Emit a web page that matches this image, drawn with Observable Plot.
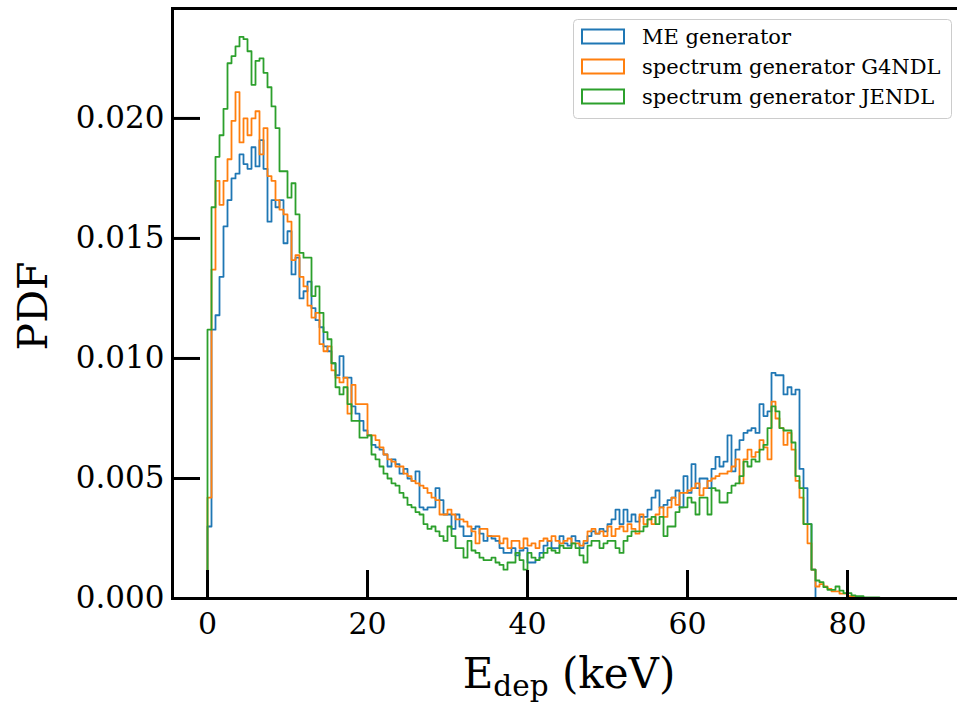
<!DOCTYPE html>
<html><head><meta charset="utf-8">
<script src="https://cdn.jsdelivr.net/npm/d3@7"></script>
<script src="https://cdn.jsdelivr.net/npm/@observablehq/plot@0.6"></script>
<style>html,body{margin:0;padding:0;background:#fff;overflow:hidden} svg{display:block}</style>
</head><body><div id="chart"></div>
<script>
// ---- data ----
const seriesNames = ["ME generator", "spectrum generator G4NDL", "spectrum generator JENDL"];
const seriesColors = ["#1f77b4", "#ff7f0e", "#2ca02c"];
const binStart = 0;      // keV, left edge of first bin
const binWidth = 0.5;    // keV
const meGenerator = [0.0030,0.0112,0.0118,0.0134,0.0155,0.0166,0.0175,0.0177,0.0185,0.0181,
0.0179,0.0188,0.0180,0.0191,0.0179,0.0157,0.0166,0.0163,0.0166,0.0148,
0.0153,0.0135,0.0142,0.0125,0.0128,0.0132,0.0121,0.0116,0.0113,0.0105,
0.0103,0.0098,0.0093,0.0101,0.0092,0.0092,0.0080,0.0077,0.0074,0.0070,
0.0068,0.0064,0.0063,0.0062,0.0060,0.0055,0.0058,0.0056,0.0052,0.0054,
0.0050,0.0049,0.0053,0.0038,0.0037,0.0038,0.0038,0.0046,0.0041,0.0035,
0.0035,0.0029,0.0035,0.0030,0.0026,0.0026,0.0029,0.0030,0.0027,0.0024,
0.0026,0.0025,0.0024,0.0021,0.0019,0.0019,0.0021,0.0018,0.0020,0.0021,
0.0015,0.0015,0.0016,0.0019,0.0022,0.0024,0.0021,0.0021,0.0026,0.0023,
0.0022,0.0026,0.0024,0.0021,0.0023,0.0026,0.0028,0.0027,0.0029,0.0028,
0.0031,0.0033,0.0037,0.0031,0.0037,0.0032,0.0035,0.0032,0.0034,0.0034,
0.0037,0.0042,0.0045,0.0038,0.0039,0.0041,0.0042,0.0045,0.0038,0.0051,
0.0044,0.0056,0.0046,0.0050,0.0050,0.0046,0.0054,0.0059,0.0055,0.0057,
0.0068,0.0053,0.0062,0.0066,0.0069,0.0070,0.0071,0.0069,0.0081,0.0076,
0.0078,0.0094,0.0093,0.0093,0.0085,0.0088,0.0085,0.0087,0.0054,0.0046,
0.0031,0.0012];
const specG4NDL = [0.0042,0.0137,0.0174,0.0164,0.0174,0.0183,0.0199,0.0211,0.0190,0.0200,
0.0193,0.0200,0.0203,0.0185,0.0196,0.0176,0.0174,0.0166,0.0162,0.0160,
0.0157,0.0141,0.0143,0.0134,0.0130,0.0122,0.0117,0.0119,0.0106,0.0103,
0.0105,0.0095,0.0092,0.0090,0.0092,0.0077,0.0089,0.0081,0.0081,0.0081,
0.0068,0.0068,0.0066,0.0063,0.0060,0.0058,0.0057,0.0055,0.0055,0.0052,
0.0051,0.0049,0.0048,0.0047,0.0046,0.0044,0.0042,0.0041,0.0035,0.0035,
0.0037,0.0035,0.0033,0.0033,0.0032,0.0030,0.0028,0.0023,0.0029,0.0029,
0.0026,0.0026,0.0026,0.0023,0.0025,0.0021,0.0024,0.0024,0.0021,0.0025,
0.0022,0.0023,0.0021,0.0024,0.0025,0.0024,0.0026,0.0024,0.0023,0.0024,
0.0025,0.0023,0.0023,0.0022,0.0024,0.0028,0.0029,0.0027,0.0028,0.0026,
0.0030,0.0026,0.0029,0.0030,0.0028,0.0031,0.0029,0.0027,0.0035,0.0031,
0.0033,0.0031,0.0035,0.0038,0.0034,0.0038,0.0042,0.0039,0.0044,0.0044,
0.0045,0.0046,0.0048,0.0043,0.0046,0.0049,0.0050,0.0051,0.0052,0.0052,
0.0053,0.0055,0.0058,0.0048,0.0058,0.0062,0.0059,0.0061,0.0066,0.0063,
0.0058,0.0082,0.0075,0.0071,0.0064,0.0069,0.0062,0.0049,0.0042,0.0031,
0.0023,0.0012,0.0005,0.0006,0.0005,0.0004,0.0003,0.0003,0.0002,0.0002,
0.0001,0.0001,0.00005];
const specJENDL = [0.0112,0.0163,0.0184,0.0193,0.0204,0.0223,0.0226,0.0230,0.0234,0.0233,
0.0228,0.0214,0.0224,0.0225,0.0219,0.0213,0.0205,0.0196,0.0178,0.0178,
0.0167,0.0173,0.0160,0.0144,0.0142,0.0142,0.0126,0.0130,0.0119,0.0111,
0.0108,0.0098,0.0088,0.0085,0.0088,0.0081,0.0074,0.0074,0.0067,0.0067,
0.0068,0.0060,0.0058,0.0055,0.0052,0.0050,0.0048,0.0047,0.0044,0.0042,
0.0039,0.0038,0.0036,0.0035,0.0031,0.0029,0.0030,0.0028,0.0026,0.0024,
0.0030,0.0026,0.0021,0.0021,0.0017,0.0024,0.0020,0.0019,0.0017,0.0016,
0.0016,0.0017,0.0015,0.0014,0.0012,0.0015,0.0015,0.0019,0.0016,0.0012,
0.0019,0.0017,0.0016,0.0017,0.0019,0.0021,0.0020,0.0019,0.0022,0.0021,
0.0021,0.0023,0.0021,0.0018,0.0015,0.0022,0.0024,0.0024,0.0021,0.0023,
0.0024,0.0024,0.0021,0.0019,0.0024,0.0026,0.0028,0.0028,0.0028,0.0030,
0.0033,0.0034,0.0031,0.0034,0.0026,0.0030,0.0030,0.0036,0.0038,0.0038,
0.0042,0.0040,0.0035,0.0042,0.0042,0.0035,0.0046,0.0045,0.0040,0.0040,
0.0044,0.0047,0.0048,0.0051,0.0057,0.0055,0.0058,0.0057,0.0062,0.0064,
0.0071,0.0080,0.0078,0.0071,0.0070,0.0070,0.0065,0.0051,0.0046,0.0031,
0.0031,0.0012,0.00075,0.00068,0.00047,0.00036,0.00036,0.0005,0.00033,0.00022,
0.00022,0.00013,0.0001,0.0001,0.00005,0.00005,0.00005,0.00005];
const xTicks = [0, 20, 40, 60, 80];
const yTicks = [0, 0.005, 0.010, 0.015, 0.020];
const xDomain = [-4.375, 94.25];
const yDomain = [0, 0.02458];
const yLabel = "PDF";
const xLabelMain = "E", xLabelSub = "dep", xLabelUnit = " (keV)";

// ---- build step outlines (matplotlib histtype="step") ----
function stepPoints(values, name) {
  const pts = [{E: binStart, pdf: 0, series: name}];
  values.forEach((v, i) => pts.push({E: binStart + i * binWidth, pdf: v, series: name}));
  pts.push({E: binStart + values.length * binWidth, pdf: 0, series: name});
  return pts;
}
const allSeries = [meGenerator, specG4NDL, specJENDL];
const data = allSeries.flatMap((vals, i) => stepPoints(vals, seriesNames[i]));

const W = 957, H = 705;
const mL = 172, mR = -4, mT = 8, mB = 107;
const tickLen = 28;
const font = "DejaVu Serif";

const chart = Plot.plot({
  width: W, height: H,
  marginLeft: mL, marginRight: mR, marginTop: mT, marginBottom: mB,
  style: {fontFamily: font, background: "white", color: "black"},
  x: {domain: xDomain},
  y: {domain: yDomain},
  color: {domain: seriesNames, range: seriesColors},
  marks: [
    Plot.line(data, {x: "E", y: "pdf", z: "series", stroke: "series", curve: "step-after", strokeWidth: 1.8}),
    Plot.tickX(xTicks, {x: d => d, stroke: "black", strokeWidth: 3, insetTop: (H - mT - mB) - tickLen}),
    Plot.tickY(yTicks, {y: d => d, stroke: "black", strokeWidth: 3, insetRight: (W - mL - mR) - tickLen}),
    Plot.axisX({ticks: xTicks, tickSize: 0, tickPadding: 14, fontSize: 30, label: null}),
    Plot.axisY({ticks: yTicks, tickSize: 0, tickPadding: 8, fontSize: 31, tickFormat: d3.format(".3f"), label: null}),
    Plot.frame({stroke: "black", strokeWidth: 3})
  ]
});
document.getElementById("chart").appendChild(chart);

const svg = d3.select(chart);
// y label
svg.append("text")
  .attr("transform", "translate(47,306) rotate(-90)")
  .attr("text-anchor", "middle")
  .attr("font-family", font).attr("font-size", 41).attr("fill", "black")
  .text(yLabel);
// x label with subscript
const xl = svg.append("text")
  .attr("x", 569).attr("y", 688)
  .attr("text-anchor", "middle")
  .attr("font-family", font).attr("font-size", 42).attr("fill", "black");
xl.append("tspan").text(xLabelMain);
xl.append("tspan").attr("font-size", 29.5).attr("dy", 8).text(xLabelSub);
xl.append("tspan").attr("dy", -8).text(xLabelUnit);

// legend
const lg = svg.append("g").attr("text-anchor", "start");
lg.append("rect").attr("x", 573.5).attr("y", 19.5).attr("width", 378).attr("height", 99)
  .attr("rx", 4).attr("fill", "white").attr("fill-opacity", 0.8)
  .attr("stroke", "#cccccc").attr("stroke-width", 1);
seriesNames.forEach((name, i) => {
  const cy = 36.5 + i * 30;
  lg.append("rect").attr("x", 582).attr("y", cy - 7).attr("width", 42).attr("height", 14)
    .attr("fill", "none").attr("stroke", seriesColors[i]).attr("stroke-width", 2);
  lg.append("text").attr("x", 642).attr("y", cy).attr("dy", "0.35em")
    .attr("text-anchor", "start")
    .attr("font-family", font).attr("font-size", 21).attr("fill", "black").text(name);
});
</script>
</body></html>
